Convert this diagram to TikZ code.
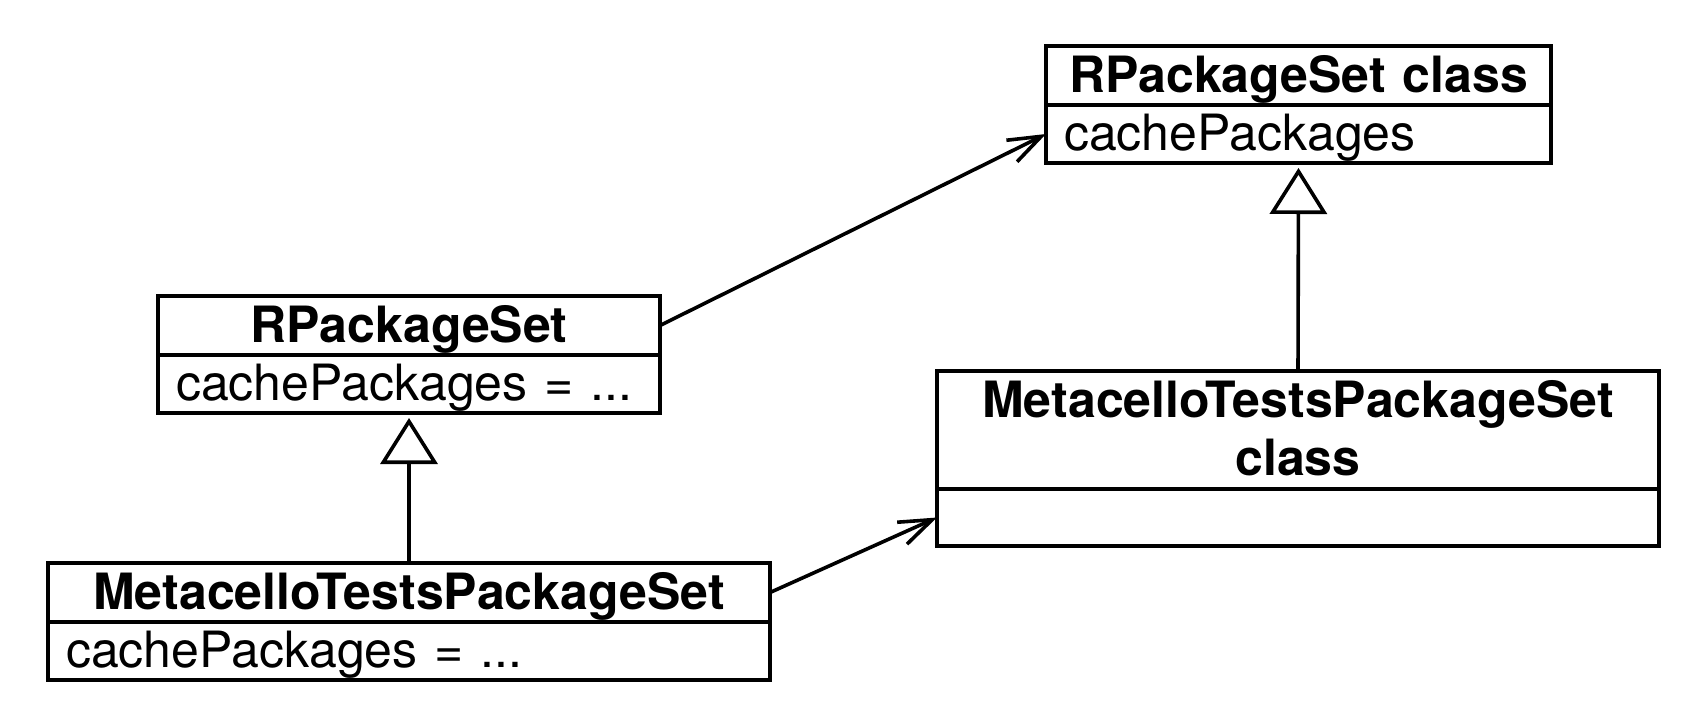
\documentclass[tikz,border=0pt]{standalone}
\usepackage{fontspec}
\setmainfont{TeX Gyre Heros}
\usetikzlibrary{arrows.meta}
\tikzset{
  box/.style={draw, line width=3.6pt, inner sep=0pt, outer sep=0pt, anchor=north west,
    font=\fontsize{50}{58}\selectfont, text height=40pt, text depth=7pt},
  titlebox/.style={box, font=\fontsize{50}{58}\selectfont\bfseries, align=center},
  attrbox/.style={box, align=left, inner xsep=18pt},
  assoc/.style={line width=3.6pt, -{Straight Barb[length=33pt,width=24pt,line width=3.6pt]}},
  inherit/.style={line width=3.6pt, shorten >=5pt, -{Triangle[open,length=46pt,width=57pt,line width=3.6pt]}},
}
\begin{document}
\begin{tikzpicture}[x=1pt,y=-1pt]
\useasboundingbox (0,0) rectangle (1704,724);
% RPackageSet class (top right)
\node[titlebox, minimum width=505pt, minimum height=59pt, text width=505pt] (t1) at (1046,46) {RPackageSet class};
\node[attrbox, minimum width=505pt, minimum height=58pt, text width=469pt] (a1) at (t1.south west) {cachePackages};
% RPackageSet
\node[titlebox, minimum width=502pt, minimum height=59pt, text width=502pt] (t2) at (158,296) {RPackageSet};
\node[attrbox, minimum width=502pt, minimum height=58pt, text width=466pt] (a2) at (t2.south west) {cachePackages = ...};
% MetacelloTestsPackageSet
\node[titlebox, minimum width=722pt, minimum height=59pt, text width=722pt] (t3) at (48,563) {MetacelloTestsPackageSet};
\node[attrbox, minimum width=722pt, minimum height=58pt, text width=686pt] (a3) at (t3.south west) {cachePackages = ...};
% MetacelloTestsPackageSet class
\node[titlebox, minimum width=722pt, minimum height=118pt, text width=722pt, text height=40pt, text depth=65pt] (t4) at (937,371) {MetacelloTestsPackageSet\\class};
\node[attrbox, minimum width=722pt, minimum height=57pt, text width=686pt] (a4) at (t4.south west) {};
% connectors
\draw[assoc] (t2.east) -- (a1.west);
\draw[assoc] (t3.east) -- (a4.west);
\draw[inherit] (t3.north) -- (a2.south);
\draw[inherit] (t4.north) -- (a1.south);
\end{tikzpicture}
\end{document}
